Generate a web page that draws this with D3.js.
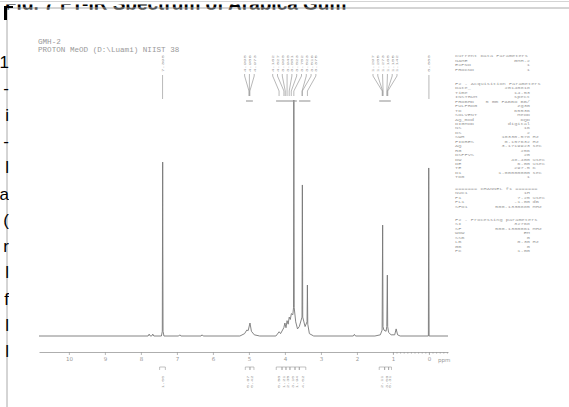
<!DOCTYPE html>
<html><head><meta charset="utf-8">
<script src="https://cdn.jsdelivr.net/npm/d3@7"></script>
<style>body{margin:0;background:#fff}svg{display:block}</style>
</head><body>
<script>
// ---------- data ----------
const spectrumPpm = [10.83,7.80,7.77,7.74,7.70,7.67,7.64,7.43,7.405,7.395,7.385,7.36,6.95,6.92,6.89,6.33,6.30,6.27,
  5.25,5.12,5.06,5.02,4.97,4.93,4.85,4.70,4.25,4.16,4.12,4.03,4.00,3.97,3.94,3.91,3.88,3.85,3.82,3.78,3.76,3.752,3.742,
  3.70,3.65,3.60,3.525,3.515,3.505,3.44,3.385,3.375,3.365,3.32,3.20,2.10,2.07,2.04,1.50,1.35,1.30,1.285,1.275,1.25,
  1.19,1.17,1.155,1.145,1.12,1.05,0.95,0.91,0.87,0.80,0.015,0.005,-0.005,-0.53];
const spectrumIntensity = [0,0,0.8,0,0,0.8,0,0,2,73.7,2,0,0,0.5,0,0,0.5,0,
  0,1,2.5,2.3,5.5,2,0.5,0,0,1.8,1.0,3.5,5.5,3.5,6.5,5,8,7,9.5,9,12,100,12,
  6,3,4,8,64,8,4,6,21.6,5,1,0,0,0.7,0,0,0.5,2.5,47,4,2.5,
  2,4,25.8,4,1.5,0.5,0.5,3,0.5,0,0,71.2,0,0];
const axisTicks = [10,9,8,7,6,5,4,3,2,1,0];
const peakGroups = [[7.398],[4.998,4.986,4.973],[4.162,4.027,3.990,3.940,3.881,3.823,3.752],
  [3.523,3.516,3.375],[1.297,1.285,1.273,1.168,1.155,1.142],[0.000]];
const integralStart = [7.48,5.10,4.97,4.24,4.08,3.97,3.86,3.72,3.60,1.38,1.23,1.12];
const integralEnd   = [7.32,4.97,4.86,4.08,3.97,3.86,3.72,3.60,3.42,1.23,1.12,1.04];
const integralValue = ["1.00","0.67","0.42","0.58","1.21","2.35","3.10","1.94","4.02","2.11","3.06","0.31"];
const headerLines = ["GMH-2","PROTON MeOD (D:\\Luami) NIIST 38"];
const paramTitles = ["Current Data Parameters","F2 - Acquisition Parameters","======= CHANNEL f1 =======","F2 - Processing parameters"];
const paramNames = [["NAME","EXPNO","PROCNO"],
  ["Date_","Time","INSTRUM","PROBHD","PULPROG","TD","SOLVENT","AQ_mod","DIGMOD","NS","DS","SWH","FIDRES","AQ","RG","DSPFVS","DW","DE","TE","D1","TD0"],
  ["NUC1","P1","PL1","SFO1"],
  ["SI","SF","WDW","SSB","LB","GB","PC"]];
const paramValues = [["GMH-2","1","1"],
  ["20140818","14.53","spect","5 mm PABBO BB/","zg30","65536","MeOD","DQD","digital","16","2","10330.578","0.157632","3.1719923","256","20","48.400","6.00","297.5","1.00000000","1"],
  ["1H","7.25","-1.00","500.1330885"],
  ["32768","500.1300061","EM","0","0.30","0","1.00"]];
const paramUnits = [["","",""],
  ["","","","","","","","","","","","Hz","Hz","sec","","","usec","usec","K","sec",""],
  ["","usec","dB","MHz"],
  ["","MHz","","","Hz","",""]];
const titleText = "Fig. 7 FT-IR Spectrum of Arabica Gum";
const marginChars = ["1","-","i","-","l","a","(","r","l","f","l","l"];

// ---------- drawing ----------
const W = 569, H = 407;
const svg = d3.select("body").append("svg").attr("width", W).attr("height", H);
svg.append("rect").attr("width", W).attr("height", H).attr("fill", "#fff");
const defs = svg.append("defs");
defs.append("clipPath").attr("id","topclip").append("rect").attr("x",0).attr("y",4.5).attr("width",W).attr("height",5);
defs.append("clipPath").attr("id","leftclip").append("rect").attr("x",0).attr("y",0).attr("width",9).attr("height",H);

// page frame
svg.append("line").attr("x1",0).attr("x2",W).attr("y1",1.5).attr("y2",1.5).attr("stroke","#d4d4d4").attr("stroke-width",1);
svg.append("g").attr("clip-path","url(#topclip)").append("text").attr("x",5).attr("y",10)
  .attr("font-family","Liberation Sans, Arial, sans-serif").attr("font-weight","bold").attr("font-size",19)
  .attr("fill","#000").text(titleText);
svg.append("line").attr("x1",7).attr("x2",W).attr("y1",8).attr("y2",8).attr("stroke","#aaa").attr("stroke-width",1);
svg.append("line").attr("x1",7).attr("x2",7).attr("y1",8).attr("y2",H).attr("stroke","#aaa").attr("stroke-width",1);
svg.append("path").attr("d","M4,6H13V8H7V20H4Z").attr("fill","#000");
const mg = svg.append("g").attr("clip-path","url(#leftclip)");
marginChars.forEach((c,i)=>{
  mg.append("text").attr("x",9).attr("y",68 + i*26.3).attr("text-anchor","end")
    .attr("font-family","Liberation Sans, Arial, sans-serif").attr("font-size",17).attr("fill","#000").text(c);
});

const x = d3.scaleLinear().domain([10.83,-0.53]).range([39,448]);
const y = d3.scaleLinear().domain([0,100]).range([336,100]);
const mono = "Liberation Mono, DejaVu Sans Mono, monospace";

// header
headerLines.forEach((t,i)=>{
  svg.append("text").attr("x",38).attr("y",44 + i*7.5).attr("font-family",mono).attr("font-size",7.6)
    .attr("fill","#999").text(t);
});

// spectrum
const pts = spectrumPpm.map((p,i)=>[p, spectrumIntensity[i]]);
svg.append("path").datum(pts)
  .attr("d", d3.line().x(d=>x(d[0])).y(d=>y(d[1])))
  .attr("fill","none").attr("stroke","#777").attr("stroke-width",0.9).attr("stroke-linejoin","round");

// axis
const axG = svg.append("g").attr("transform","translate(0,352)");
axG.call(d3.axisBottom(x).tickValues(d3.range(-50,108,10).map(v=>v/100).filter(v=>v>=-0.5&&v<=10.8))
  .tickSize(1.6).tickSizeOuter(0).tickFormat(""));
const axM = svg.append("g").attr("transform","translate(0,352)");
axM.call(d3.axisBottom(x).tickValues(axisTicks).tickSize(3).tickPadding(2).tickSizeOuter(0).tickFormat(d3.format("d")));
axM.select(".domain").remove();
svg.selectAll(".domain").attr("stroke","#999").attr("stroke-width",0.8);
svg.selectAll(".tick line").attr("stroke","#999").attr("stroke-width",0.7);
axM.selectAll("text").attr("font-size",5.5).attr("fill","#999").attr("font-family","DejaVu Sans, sans-serif");
svg.append("text").attr("x",438).attr("y",362).attr("font-size",5.5).attr("fill","#999")
  .attr("font-family","DejaVu Sans, sans-serif").text("ppm");

// peak labels
const spacing = 4.8;
let lastRight = -Infinity;
peakGroups.forEach(g=>{
  const tx = g.map(p=>x(p));
  const cx = d3.mean(tx);
  let start = cx - (g.length-1)*spacing/2;
  if (start < lastRight + spacing) start = lastRight + spacing;
  const lx = g.map((p,i)=> g.length===1 ? tx[0] : start + i*spacing);
  lastRight = lx[lx.length-1];
  const lg = svg.append("g");
  g.forEach((p,i)=>{
    lg.append("text").attr("transform",`translate(${lx[i]+1.5},72) rotate(-90) scale(1,0.72)`)
      .attr("font-family",mono).attr("font-size",5.6).attr("fill","#999").text(p.toFixed(3));
    const d = g.length===1 ? `M${tx[i]},75V99` : `M${lx[i]},74V76L${tx[i]},91V96`;
    lg.append("path").attr("d",d).attr("fill","none").attr("stroke","#999").attr("stroke-width",0.7);
  });
  if (g.length>1){
    lg.append("line").attr("x1",d3.min(tx)-3).attr("x2",d3.max(tx)+3).attr("y1",101).attr("y2",101)
      .attr("stroke","#999").attr("stroke-width",1.1);
  }
});

// integrals
integralStart.forEach((s,i)=>{
  const x1 = x(s), x2 = x(integralEnd[i]);
  svg.append("path").attr("d",`M${x1},370V367H${x2}V370`).attr("fill","none").attr("stroke","#999").attr("stroke-width",0.6);
  svg.append("text").attr("transform",`translate(${(x1+x2)/2+1.3},388) rotate(-90) scale(1,0.65)`)
    .attr("font-family",mono).attr("font-size",5.2).attr("fill","#999").text(integralValue[i]);
});

// parameter block
const blockY = [55.7, 83.3, 188.3, 219.3];
const lh = 4.45;
paramTitles.forEach((t,b)=>{
  const g = svg.append("g").attr("font-family",mono).attr("font-size",5.3).attr("fill","#999");
  const put = (tx, yy, s, anchor) => g.append("text")
    .attr("transform",`translate(${tx},${yy}) scale(1,0.7)`).attr("text-anchor",anchor||"start").text(s);
  put(455, blockY[b]+1.6, t);
  paramNames[b].forEach((n,i)=>{
    const yy = blockY[b] + (i+1)*lh + 1.6;
    put(455, yy, n);
    put(530, yy, paramValues[b][i], "end");
    if (paramUnits[b][i]) put(532.5, yy, paramUnits[b][i]);
  });
});
</script>
</body></html>
